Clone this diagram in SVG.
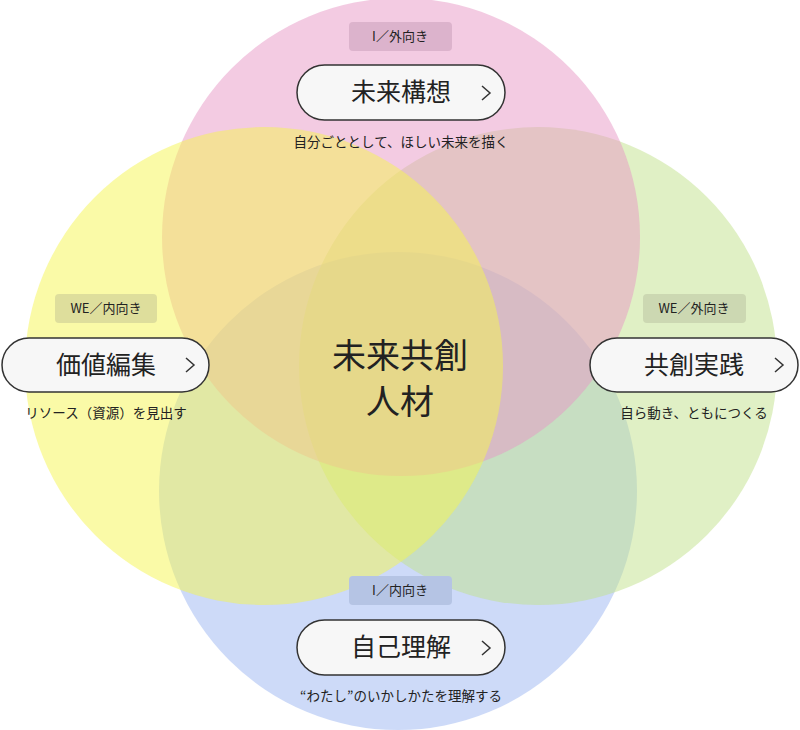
<svg xmlns="http://www.w3.org/2000/svg" width="800" height="730" viewBox="0 0 800 730">
<style>
.c{opacity:0.5}
.pill{fill:#f7f7f7;stroke:#333;stroke-width:1.5}
.t{font-family:"Noto Sans CJK JP","Noto Sans",sans-serif;fill:#222}
.big{font-size:25px}
.tag{font-size:13px}
.cap{font-size:13.5px}
.chev{fill:none;stroke:#333;stroke-width:1.5}
</style>
<rect width="800" height="730" fill="#fff"/>
<g id="circles">
<circle class="c" cx="398" cy="491" r="239" fill="#9cb6f2"/>
<circle class="c" cx="538" cy="366" r="239" fill="#c2e28c"/>
<circle class="c" cx="401" cy="237" r="239" fill="#e898c6"/>
<circle class="c" cx="264" cy="366" r="239" fill="#f5f550"/>
</g>
<g id="center"><text class="t" x="400" y="368" font-size="34" text-anchor="middle">未来共創</text><text class="t" x="400" y="414" font-size="34" text-anchor="middle">人材</text></g>
<g id="top">
<rect x="349" y="22" width="103" height="29" rx="4" fill="#dcb3cc"/>
<text class="t tag" x="400" y="41" text-anchor="middle">I／外向き</text>
<rect class="pill" x="297" y="65" width="208" height="55" rx="27.5"/>
<text class="t big" x="401" y="101" text-anchor="middle">未来構想</text>
<path class="chev" d="M482 86l8 7-8 7"/>
<text class="t cap" x="401" y="147" text-anchor="middle">自分ごととして、ほしい未来を描く</text>
</g>
<g id="left">
<rect x="55" y="294" width="102" height="29" rx="4" fill="#dede9c"/>
<text class="t tag" x="106" y="313" text-anchor="middle">WE／内向き</text>
<rect class="pill" x="2" y="338" width="207" height="54" rx="27"/>
<text class="t big" x="106" y="374" text-anchor="middle">価値編集</text>
<path class="chev" d="M186 358l8 7-8 7"/>
<text class="t cap" x="106" y="418" text-anchor="middle">リソース（資源）を見出す</text>
</g>
<g id="right">
<rect x="643" y="294" width="103" height="29" rx="4" fill="#ccd8b2"/>
<text class="t tag" x="694" y="313" text-anchor="middle">WE／外向き</text>
<rect class="pill" x="590" y="338" width="208" height="54" rx="27"/>
<text class="t big" x="694" y="374" text-anchor="middle">共創実践</text>
<path class="chev" d="M775 358l8 7-8 7"/>
<text class="t cap" x="694" y="418" text-anchor="middle">自ら動き、ともにつくる</text>
</g>
<g id="bottom">
<rect x="349" y="576" width="103" height="29" rx="4" fill="#b5c4e4"/>
<text class="t tag" x="400" y="595" text-anchor="middle">I／内向き</text>
<rect class="pill" x="297" y="620" width="208" height="55" rx="27.5"/>
<text class="t big" x="401" y="656" text-anchor="middle">自己理解</text>
<path class="chev" d="M482 641l8 7-8 7"/>
<text class="t cap" x="401" y="701" text-anchor="middle">“わたし”のいかしかたを理解する</text>
</g>
<g id="connectors"/>
</svg>
